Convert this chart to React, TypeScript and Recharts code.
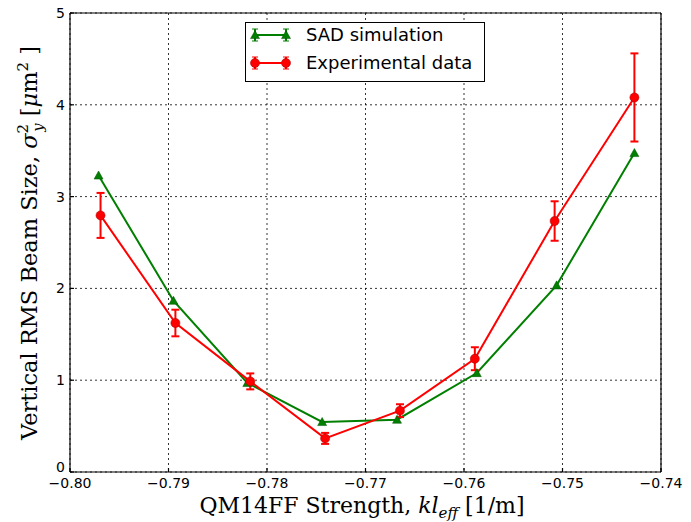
import React from 'react';
import { ComposedChart, Line, XAxis, YAxis, CartesianGrid, ErrorBar } from 'recharts';

const simX = [-0.7971, -0.7895, -0.782, -0.7744, -0.7668, -0.7587, -0.7506, -0.7427];
const simY = [3.23, 1.866, 0.97, 0.545, 0.57, 1.078, 2.033, 3.475];
const expX = [-0.7969, -0.7893, -0.7817, -0.7741, -0.7665, -0.7589, -0.7508, -0.7427];
const expY = [2.795, 1.623, 0.987, 0.366, 0.668, 1.234, 2.734, 4.08];
const expErr = [0.245, 0.145, 0.087, 0.06, 0.07, 0.125, 0.215, 0.48];
const xTicks = [-0.8, -0.79, -0.78, -0.77, -0.76, -0.75, -0.74];
const yTicks = [0, 1, 2, 3, 4, 5];
const seriesNames = ['SAD simulation', 'Experimental data'];

const simData = simX.map((x, i) => ({ x, y: simY[i] }));
const expData = expX.map((x, i) => ({ x, y: expY[i], err: expErr[i] }));

const GREEN = '#007f00';
const RED = '#ff0000';
const SERIF = "'DejaVu Serif', serif";
const SANS = "'DejaVu Sans', sans-serif";

const Tri = (props: any) => {
  const { cx, cy } = props;
  if (cx == null || cy == null) return null;
  const s = 4.5;
  return <polygon points={`${cx},${cy - s} ${cx - s},${cy + s * 0.8} ${cx + s},${cy + s * 0.8}`} fill={GREEN} stroke="#005000" strokeWidth={0.5} />;
};
const Dot = (props: any) => {
  const { cx, cy } = props;
  if (cx == null || cy == null) return null;
  return <circle cx={cx} cy={cy} r={4.5} fill={RED} stroke="#b00000" strokeWidth={0.6} />;
};

const fmtX = (v: number) => v.toFixed(2).replace('-', '\u2212');

const YTick = (props: any) => {
  const { x, y, payload } = props;
  const off = payload.value === 0 ? -5 : 0;
  return (
    <text x={x} y={y + off} dy={5} textAnchor="end" fill="#000" style={{ fontFamily: SANS, fontSize: 14 }}>
      {String(payload.value)}
    </text>
  );
};

const LegendBox = () => (
  <svg width={241} height={61} style={{ display: 'block' }}>
    <rect x={0.5} y={0.5} width={239} height={59} fill="#fff" stroke="#000" strokeWidth={1} />
    {[0, 1].map((i) => {
      const c = i === 0 ? GREEN : RED;
      const y = i === 0 ? 13 : 41;
      return (
        <g key={i}>
          <line x1={10} x2={41} y1={y} y2={y} stroke={c} strokeWidth={2} />
          {[10, 41].map((x) => (
            <g key={x}>
              <line x1={x} x2={x} y1={y - 6} y2={y + 6} stroke={c} strokeWidth={2} />
              <line x1={x - 3} x2={x + 3} y1={y - 6} y2={y - 6} stroke={c} strokeWidth={1} />
              <line x1={x - 3} x2={x + 3} y1={y + 6} y2={y + 6} stroke={c} strokeWidth={1} />
              {i === 0 ? <Tri cx={x} cy={y} /> : <Dot cx={x} cy={y} />}
            </g>
          ))}
          <text x={61} y={y + 6} style={{ fontFamily: SANS, fontSize: 18 }} fill="#000">{seriesNames[i]}</text>
        </g>
      );
    })}
  </svg>
);

export default function App() {
  return (
    <div style={{ position: 'absolute', left: 0, top: 0, width: 691, height: 522, background: '#fff' }}>
      <ComposedChart width={691} height={522} margin={{ top: 12, right: 29, bottom: 49, left: 69 }}>
        <CartesianGrid stroke="#000" strokeDasharray="2 3" strokeWidth={0.8} xAxisId="b" yAxisId="l" />
        <XAxis xAxisId="b" type="number" dataKey="x" domain={[-0.8, -0.74]} ticks={xTicks} tickFormatter={fmtX}
          height={1} tickSize={-4} tickMargin={10} stroke="#000" strokeWidth={1.2} allowDataOverflow
          tick={{ fill: '#000', style: { fontFamily: SANS, fontSize: 14 } }}
          label={{ content: () => (
            <text x={362} y={513} textAnchor="middle" style={{ fontFamily: SERIF, fontSize: 22 }} fill="#000">
              QM14FF Strength, <tspan fontStyle="italic">kl</tspan><tspan fontStyle="italic" fontSize={15} dy={5}>eff</tspan><tspan dy={-5}> [1/m]</tspan>
            </text>
          ) }} />
        <XAxis xAxisId="t" orientation="top" type="number" domain={[-0.8, -0.74]} ticks={xTicks} height={1}
          tickSize={-4} tick={() => null} stroke="#000" strokeWidth={1.2} allowDataOverflow />
        <YAxis yAxisId="l" type="number" domain={[0, 5]} ticks={yTicks} width={1} tickSize={-4} tickMargin={9}
          stroke="#000" strokeWidth={1.2} tick={<YTick />}
          label={{ content: () => (
            <text transform="translate(37,243) rotate(-90)" textAnchor="middle" style={{ fontFamily: SERIF, fontSize: 22.5 }} fill="#000">
              Vertical RMS Beam Size, <tspan fontStyle="italic">σ</tspan><tspan fontSize={15} dy={-9}>2</tspan><tspan fontSize={15} fontStyle="italic" dx={-8} dy={15}>y</tspan><tspan dy={-6}>  [</tspan><tspan fontStyle="italic">μ</tspan><tspan>m</tspan><tspan fontSize={15} dy={-9}>2</tspan><tspan dy={9}> ]</tspan>
            </text>
          ) }} />
        <YAxis yAxisId="r" orientation="right" type="number" domain={[0, 5]} ticks={yTicks} width={1} tickSize={-4}
          tick={() => null} stroke="#000" strokeWidth={1.2} />
        <Line xAxisId="b" yAxisId="l" data={simData} dataKey="y" name={seriesNames[0]} stroke={GREEN} strokeWidth={2}
          dot={<Tri />} activeDot={false} isAnimationActive={false} />
        <Line xAxisId="b" yAxisId="l" data={expData} dataKey="y" name={seriesNames[1]} stroke={RED} strokeWidth={2}
          dot={<Dot />} activeDot={false} isAnimationActive={false}>
          <ErrorBar dataKey="err" direction="y" width={4} stroke={RED} strokeWidth={2} isAnimationActive={false} />
        </Line>
      </ComposedChart>
      <div style={{ position: 'absolute', left: 245, top: 22 }}>
        <LegendBox />
      </div>
    </div>
  );
}
